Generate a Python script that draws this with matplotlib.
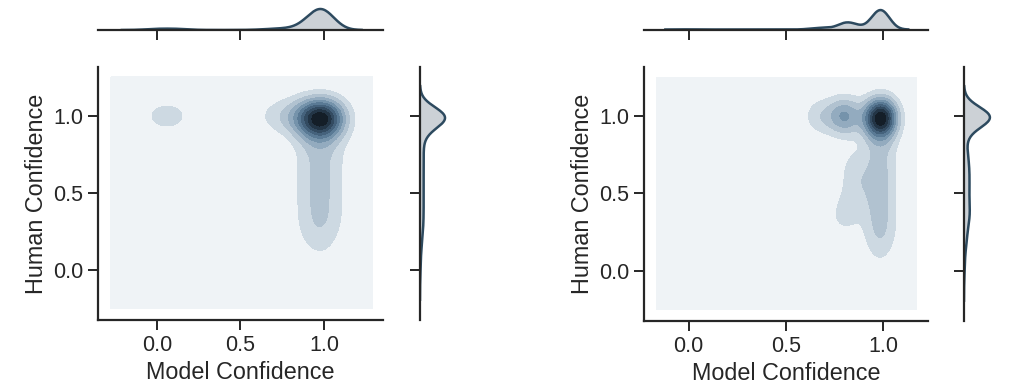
import numpy as np
import matplotlib
matplotlib.use("Agg")
import matplotlib.pyplot as plt

plt.rcParams['font.family'] = ['Liberation Sans', 'DejaVu Sans']

# Left panel: estimated (model confidence, human confidence, count) clusters
model_a = [1.00, 0.95, 1.00, 0.95,
           0.935, 1.015, 0.935, 1.015, 0.935, 1.015, 0.935, 1.015, 0.935, 1.015, 0.935, 1.015,
           0.935, 1.015, 0.97, 0.98, 1.00,
           0.88, 0.80, 0.72, 0.65, 0.00, 0.12]
human_a = [1.00, 1.00, 0.95, 0.95,
           0.90, 0.90, 0.80, 0.80, 0.70, 0.70, 0.60, 0.60, 0.50, 0.50, 0.40, 0.40,
           0.30, 0.30, 0.20, 0.10, 0.00,
           1.00, 1.00, 1.00, 1.00, 1.00, 1.00]
count_a = [50, 20, 15, 10,
           6.0, 6.0, 6.2, 6.2, 6.2, 6.2, 6.2, 6.2, 6.2, 6.2, 6.2, 6.2,
           6.0, 6.0, 8, 3, 2,
           10, 8, 6, 3, 8.5, 8.5]

# Right panel
model_b = [1.00, 0.97, 1.00, 0.96, 0.80, 0.86, 0.70, 0.64,
           0.96, 1.01, 0.96, 1.01, 0.96, 1.01, 0.96, 1.01, 0.96, 1.01, 0.96, 1.01,
           0.96, 1.01, 0.96, 1.01,
           0.85, 0.86, 0.85, 0.83, 0.79, 0.98, 1.00, 0.00]
human_b = [1.00, 1.00, 0.96, 0.97, 1.00, 1.00, 1.00, 1.00,
           0.90, 0.90, 0.80, 0.80, 0.70, 0.70, 0.60, 0.60, 0.50, 0.50, 0.40, 0.40,
           0.30, 0.30, 0.20, 0.20,
           0.70, 0.60, 0.50, 0.40, 0.34, 0.10, 0.00, 0.60]
count_b = [40, 20, 10, 8, 28, 5, 10, 5,
           4.0, 4.0, 4.2, 4.2, 4.8, 4.8, 5.0, 5.0, 5.0, 5.0, 5.0, 5.0,
           5.0, 5.0, 4.6, 4.6,
           6, 6, 6, 6, 6, 3, 2, 1]

ticks = [0.0, 0.5, 1.0]
tick_labels = ["0.0", "0.5", "1.0"]

level_colors = ["#eff3f6", "#cdd9e2", "#b1c2d0", "#93abbf", "#7593ab", "#5a7a95",
                "#45627c", "#334b61", "#233546", "#141e28"]
line_color = "#2d4a5f"
fill_color = "#34495e"
ink = "#262626"


def kde2d(x, y, w, bx, by, n=150, cut=3):
    x, y, w = np.asarray(x), np.asarray(y), np.asarray(w, float)
    gx = np.linspace(x.min() - cut * bx, x.max() + cut * bx, n)
    gy = np.linspace(y.min() - cut * by, y.max() + cut * by, n)
    X, Y = np.meshgrid(gx, gy)
    Z = np.zeros_like(X)
    for xi, yi, wi in zip(x, y, w):
        Z += wi * np.exp(-((X - xi) ** 2 / (2 * bx ** 2) + (Y - yi) ** 2 / (2 * by ** 2)))
    return gx, gy, Z / (w.sum() * 2 * np.pi * bx * by)


def kde1d(v, w, bw, n=200, cut=3):
    v, w = np.asarray(v), np.asarray(w, float)
    g = np.linspace(v.min() - cut * bw, v.max() + cut * bw, n)
    d = np.zeros_like(g)
    for vi, wi in zip(v, w):
        d += wi * np.exp(-(g - vi) ** 2 / (2 * bw ** 2))
    return g, d / (w.sum() * np.sqrt(2 * np.pi) * bw)


W, H = 1012, 387
fig = plt.figure(figsize=(W / 100, H / 100), dpi=100)


def px_axes(x0, x1, y0, y1):
    return fig.add_axes([x0 / W, (H - y1) / H, (x1 - x0) / W, (y1 - y0) / H])


def style(ax, spines):
    for s in ["top", "right", "left", "bottom"]:
        ax.spines[s].set_visible(s in spines)
        ax.spines[s].set_linewidth(1.6)
        ax.spines[s].set_color(ink)
    ax.tick_params(length=7, width=1.4, color=ink, labelsize=15.5, labelcolor=ink)


def joint(mx, hy, cnt, main_box, top_box, right_box, xlim, bw2, bwx, bwy, top_scale, right_scale):
    ax = px_axes(*main_box)
    gx, gy, Z = kde2d(mx, hy, cnt, bw2[0], bw2[1])
    levels = np.linspace(0, Z.max(), 11)
    ax.contourf(gx, gy, Z, levels=levels, colors=level_colors)
    ax.set_xlim(*xlim)
    ax.set_ylim(-0.327, 1.32)
    ax.set_xticks(ticks)
    ax.set_xticklabels(tick_labels)
    ax.set_yticks(ticks)
    ax.set_yticklabels(tick_labels)
    ax.set_xlabel("Model Confidence", fontsize=16.8, color=ink)
    ax.set_ylabel("Human Confidence", fontsize=16.8, color=ink)
    style(ax, ["left", "bottom"])

    axt = px_axes(*top_box)
    g, d = kde1d(mx, cnt, bwx)
    axt.fill_between(g, 0, d, color=fill_color, alpha=0.25, lw=0)
    axt.plot(g, d, color=line_color, lw=1.8)
    axt.set_xlim(*xlim)
    axt.set_ylim(0, d.max() * top_scale)
    axt.set_xticks(ticks)
    axt.set_xticklabels([])
    axt.set_yticks([])
    style(axt, ["bottom"])

    axr = px_axes(*right_box)
    g, d = kde1d(hy, cnt, bwy)
    axr.fill_betweenx(g, 0, d, color=fill_color, alpha=0.25, lw=0)
    axr.plot(d, g, color=line_color, lw=1.8)
    axr.set_ylim(-0.327, 1.32)
    axr.set_xlim(0, d.max() * right_scale)
    axr.set_yticks(ticks)
    axr.set_yticklabels([])
    axr.set_xticks([])
    style(axr, ["left"])


joint(model_a, human_a, count_a, (98, 383, 67, 320), (98, 383, 5, 30), (420, 455, 67, 320),
      (-0.353, 1.353), (0.092, 0.085), 0.07, 0.065, 1.19, 1.4)
joint(model_b, human_b, count_b, (644, 928, 67, 321), (644, 928, 5, 29.5), (964, 999, 67, 321),
      (-0.23, 1.232), (0.055, 0.085), 0.04, 0.065, 1.26, 1.35)

fig.savefig("out.png", dpi=100)
